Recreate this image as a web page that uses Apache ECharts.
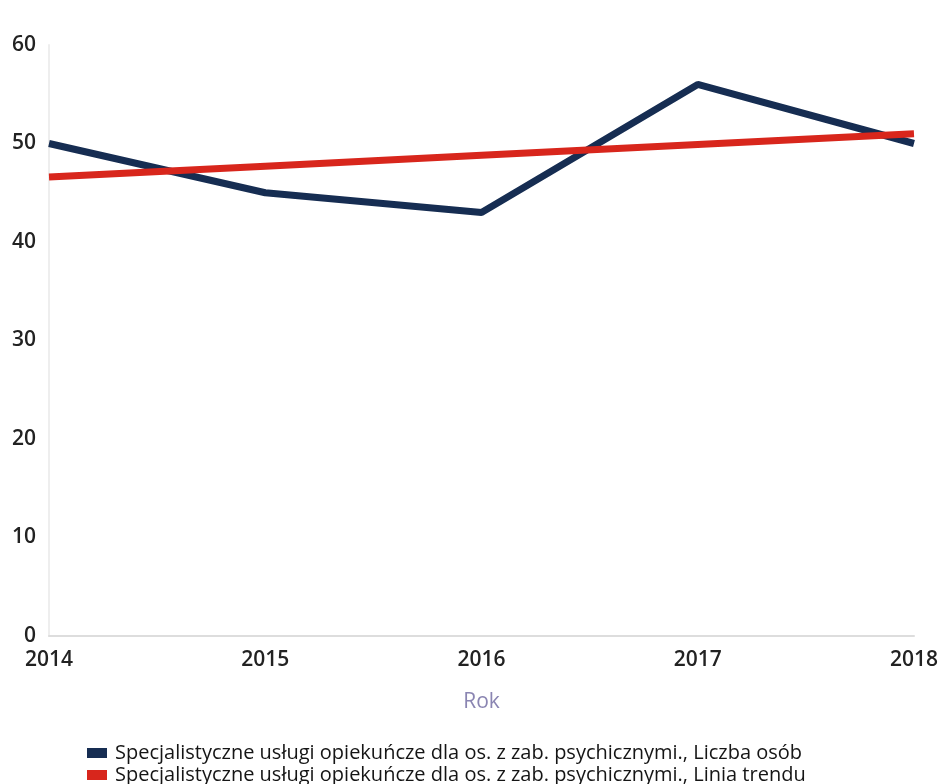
<!DOCTYPE html>
<html><head><meta charset="utf-8">
<script src="https://cdn.jsdelivr.net/npm/echarts@6/dist/echarts.min.js"></script>
<style>html,body{margin:0;padding:0;background:#fff}#c{width:941px;height:784px}</style>
</head><body><div id="c"></div>
<script>
const years = ['2014','2015','2016','2017','2018'];
const liczbaOsob = [50, 45, 43, 56, 50];
const liniaTrendu = [46.6, 47.7, 48.8, 49.9, 51.0];
const seriesNames = [
  'Specjalistyczne usługi opiekuńcze dla os. z zab. psychicznymi., Liczba osób',
  'Specjalistyczne usługi opiekuńcze dla os. z zab. psychicznymi., Linia trendu'
];
const chart = echarts.init(document.getElementById('c'));
const font = '"Open Sans", "Noto Sans", sans-serif';
const legendText = {fontFamily: font, fontSize: 20, color: '#151515', fontWeight: 500, padding: [0, 0, 0, 3]};
chart.setOption({
  animation: false,
  textStyle: {fontFamily: font},
  grid: {left: 49, right: 26, top: 45, bottom: 148},
  legend: [
    {left: 82, top: 738, itemWidth: 20, itemHeight: 10, icon: 'rect', textStyle: legendText, data: [seriesNames[0]]},
    {left: 82, top: 760, itemWidth: 20, itemHeight: 10, icon: 'rect', textStyle: legendText, data: [seriesNames[1]]}
  ],
  xAxis: {
    type: 'category', data: years, boundaryGap: false,
    name: 'Rok', nameLocation: 'middle', nameGap: 56,
    nameTextStyle: {fontFamily: font, fontSize: 21, color: '#8a85b2'},
    axisLine: {lineStyle: {color: '#dddddd', width: 2}},
    axisTick: {show: false},
    axisLabel: {fontFamily: font, fontSize: 21, fontWeight: 600, color: '#222', margin: 14}
  },
  yAxis: {
    type: 'value', min: 0, max: 60, interval: 10,
    axisLine: {show: true, lineStyle: {color: '#eeeeee', width: 2}},
    axisTick: {show: false},
    splitLine: {show: false},
    axisLabel: {fontFamily: font, fontSize: 21, fontWeight: 600, color: '#222', margin: 13}
  },
  series: [
    {name: seriesNames[0], type: 'line', data: liczbaOsob, symbol: 'none',
     lineStyle: {color: '#162d52', width: 7}, itemStyle: {color: '#162d52'}},
    {name: seriesNames[1], type: 'line', data: liniaTrendu, symbol: 'none',
     lineStyle: {color: '#d8261c', width: 7}, itemStyle: {color: '#d8261c'}}
  ]
});
</script></body></html>
